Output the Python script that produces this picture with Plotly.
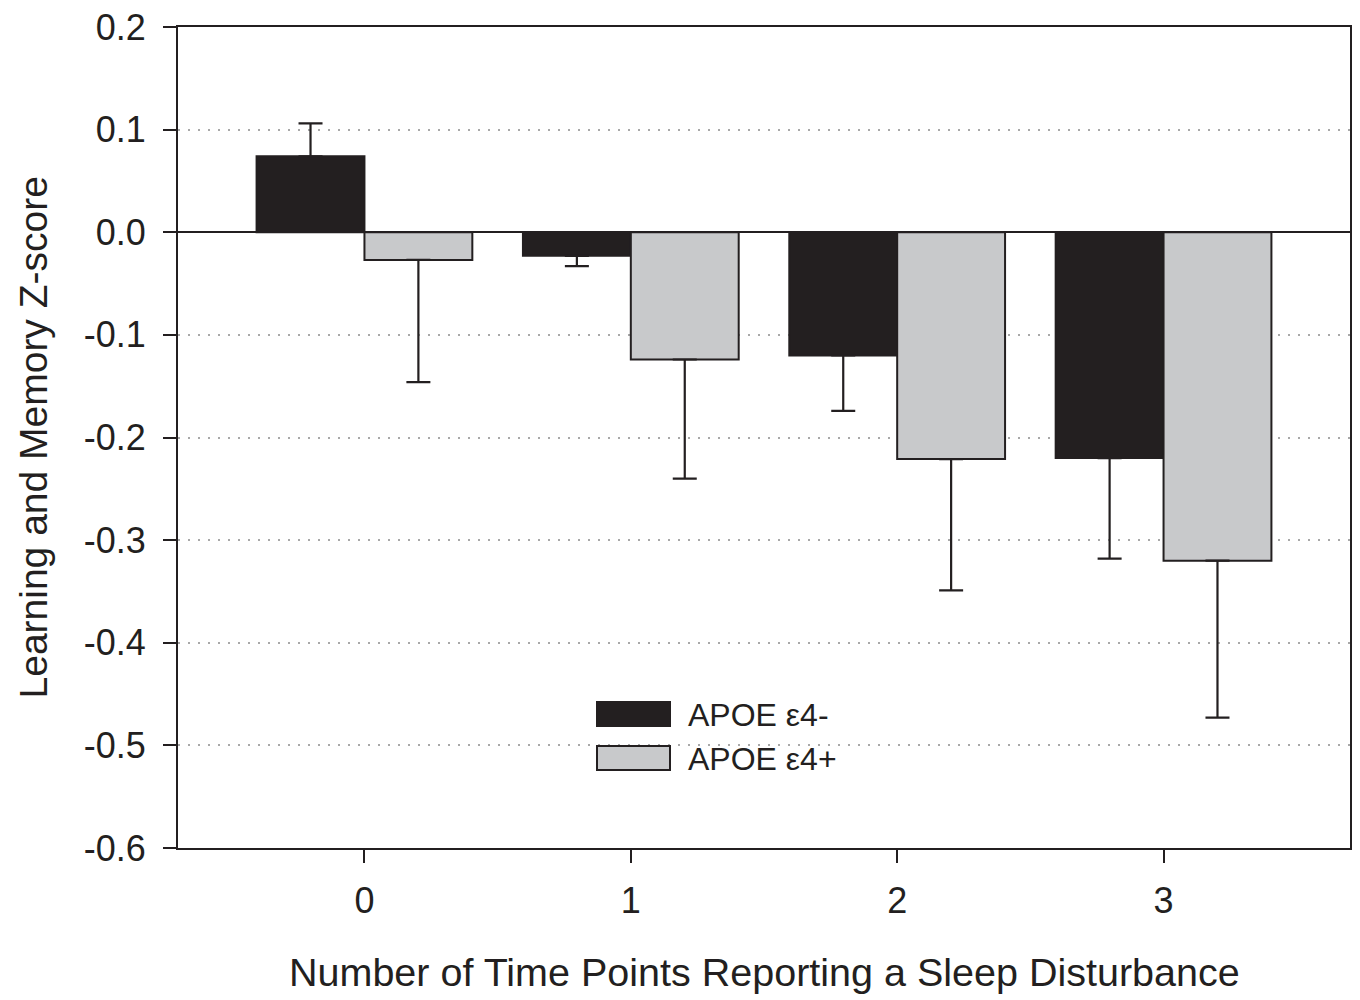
import plotly.graph_objects as go

categories = [0, 1, 2, 3]
tick_labels_x = ["0", "1", "2", "3"]
neg_means = [0.074, -0.023, -0.120, -0.220]
neg_errs = [0.032, 0.010, 0.054, 0.098]
pos_means = [-0.027, -0.124, -0.221, -0.320]
pos_errs = [0.119, 0.116, 0.128, 0.153]
series_names = ["APOE \u03b54-", "APOE \u03b54+"]
y_tick_vals = [0.2, 0.1, 0.0, -0.1, -0.2, -0.3, -0.4, -0.5, -0.6]
y_tick_text = ["0.2", "0.1", "0.0", "-0.1", "-0.2", "-0.3", "-0.4", "-0.5", "-0.6"]

INK = "#231f20"
GRAY = "#c8c9cb"
FONT = "Liberation Sans, Arial, sans-serif"


def one_sided(means, errs):
    plus = [e if m > 0 else 0 for m, e in zip(means, errs)]
    minus = [e if m <= 0 else 0 for m, e in zip(means, errs)]
    return plus, minus


fig = go.Figure()
for name, means, errs, color in [
    (series_names[0], neg_means, neg_errs, INK),
    (series_names[1], pos_means, pos_errs, GRAY),
]:
    plus, minus = one_sided(means, errs)
    fig.add_trace(go.Bar(
        x=categories, y=means, name=name, showlegend=False,
        marker=dict(color=color, line=dict(color=INK, width=2)),
        error_y=dict(type="data", symmetric=False, array=plus, arrayminus=minus,
                     color=INK, thickness=2.2, width=12),
    ))

# page body adds an 8px offset; layout is expressed in screen pixels
OFF = 8
W, H = 1360, 1000
PL, PR, PT, PB = 178, 1350, 27, 848  # plot area in screen pixels
L, T = PL - OFF, PT - OFF
R = W - (PR - OFF)
B = H - (PB - OFF)
pw, ph = PR - PL, PB - PT


def px(xp):
    return (xp - PL) / pw


def py(yp):
    return (PB - yp) / ph


shapes = []
annotations = []
for i, (name, color) in enumerate(zip(series_names, [INK, GRAY])):
    y0 = 702 + i * 44
    shapes.append(dict(type="rect", xref="paper", yref="paper",
                       x0=px(597), x1=px(670), y0=py(y0 + 24), y1=py(y0),
                       fillcolor=color, line=dict(color=INK, width=2)))
    annotations.append(dict(xref="paper", yref="paper", x=px(686), y=py(y0 + 13),
                            xanchor="left", yanchor="middle", showarrow=False,
                            text=name, font=dict(family=FONT, size=32, color=INK)))

annotations.append(dict(xref="paper", yref="paper", x=0.5, y=py(972),
                        xanchor="center", yanchor="middle", showarrow=False,
                        text="Number of Time Points Reporting a Sleep Disturbance",
                        font=dict(family=FONT, size=39.5, color=INK)))
annotations.append(dict(xref="paper", yref="paper", x=px(33), y=0.5,
                        xanchor="center", yanchor="middle", showarrow=False, textangle=-90,
                        text="Learning and Memory Z-score",
                        font=dict(family=FONT, size=39, color=INK)))

fig.update_layout(
    width=W, height=H,
    margin=dict(l=L, r=R, t=T, b=B, autoexpand=False),
    paper_bgcolor="white", plot_bgcolor="white",
    barmode="group", bargap=0.19, bargroupgap=0,
    shapes=shapes, annotations=annotations,
    font=dict(family=FONT, color=INK),
)
fig.update_xaxes(
    range=[-0.7, 3.7], tickvals=categories, ticktext=tick_labels_x,
    showline=True, linecolor=INK, linewidth=2, mirror=True, automargin=False,
    ticks="outside", ticklen=13, tickwidth=2, tickcolor=INK,
    tickfont=dict(family=FONT, size=36, color=INK), ticklabelstandoff=7,
    ticklabeloverflow="allow",
    showgrid=False, zeroline=False,
)
fig.update_yaxes(
    range=[-0.6, 0.2], tickvals=y_tick_vals, ticktext=y_tick_text,
    showline=True, linecolor=INK, linewidth=2, mirror=True, automargin=False,
    ticks="outside", ticklen=13, tickwidth=2, tickcolor=INK,
    tickfont=dict(family=FONT, size=36, color=INK), ticklabelstandoff=10,
    ticklabeloverflow="allow",
    showgrid=True, gridcolor="#a8a8a8", gridwidth=1.5, griddash="1.5px,8.5px",
    zeroline=True, zerolinecolor=INK, zerolinewidth=2,
)

fig.write_html("out.html")
